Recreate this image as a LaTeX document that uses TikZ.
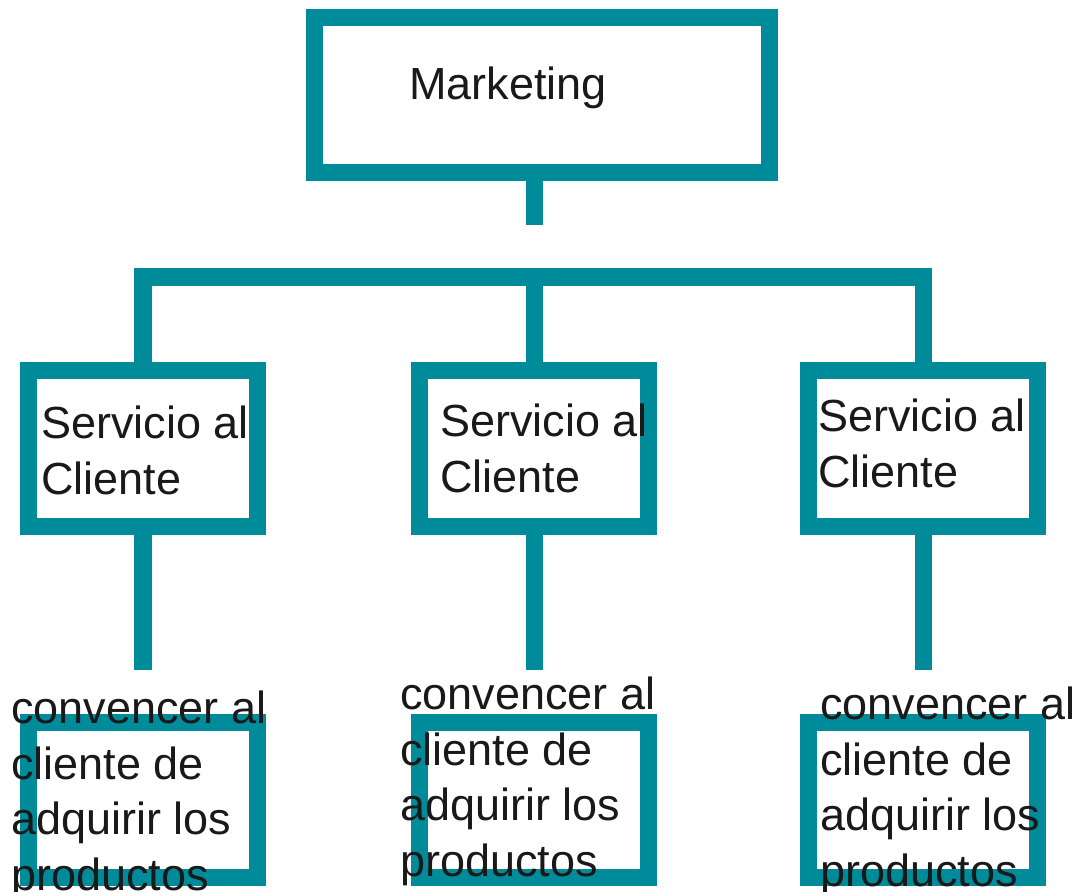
\documentclass[tikz,border=0pt]{standalone}
\usepackage{fontspec}
\setmainfont{Liberation Sans}
\usetikzlibrary{positioning}
\definecolor{verdeazul}{RGB}{0,139,154}
\tikzset{
	caja/.style={rectangle, draw=verdeazul, line width=0.425cm, 
		minimum width=5.7cm, minimum height=3.875cm, inner sep=0pt},
	cajagrande/.style={caja, minimum width=11.375cm, minimum height=3.85cm},
	texto/.style={anchor=base west, inner sep=0pt, align=left, 
		text=black!90, font=\fontsize{32}{39.5}\selectfont},
	linea/.style={draw=verdeazul, line width=0.425cm}
}

\begin{document}
\begin{tikzpicture}[x=0.025cm, y=-0.025cm, node distance=4.475cm]
			\useasboundingbox (0,0) rectangle (1086,892);
			
			\node[cajagrande] (mkt) at (541.75,95) {};
			
			\node[caja] (serv1) at (143,448.5) {};
			\node[caja] (serv2) at (534,448.5) {};
			\node[caja] (serv3) at (923,448.5) {};
			
			\node[caja, below=of serv1] (conv1) {};
			\node[caja, below=of serv2] (conv2) {};
			\node[caja, below=of serv3] (conv3) {};
			
			% conectores
			\coordinate (tallo) at (534,225);
			\coordinate (barra) at (534,277);
			\draw[linea] (mkt.south -| tallo) -- (tallo);
			\draw[linea] (serv1.north) |- (barra) -| (serv3.north);
			\draw[linea] (barra) -- (serv2.north);
			
			\coordinate (fin1) at (143,670);
			\coordinate (fin2) at (534,670);
			\coordinate (fin3) at (923,670);
			\draw[linea] (serv1.south) -- (fin1);
			\draw[linea] (serv2.south) -- (fin2);
			\draw[linea] (serv3.south) -- (fin3);
			
			% textos (base = ultima linea)
			\node[texto] (tmkt) at (409,100) {Marketing};
			\node[texto] (tserv1) at (41,494.5) {Servicio al\\Cliente};
			\node[texto] (tserv2) at (440,492) {Servicio al\\Cliente};
			\node[texto] (tserv3) at (818,487.5) {Servicio al\\Cliente};
			\node[texto] (tconv1) at (11,890.5) {convencer al\\cliente de\\adquirir los\\productos};
			\node[texto] (tconv2) at (400,876.5) {convencer al\\cliente de\\adquirir los\\productos};
			\node[texto] (tconv3) at (820,886.5) {convencer al\\cliente de\\adquirir los\\productos};
		\end{tikzpicture}
\end{document}
